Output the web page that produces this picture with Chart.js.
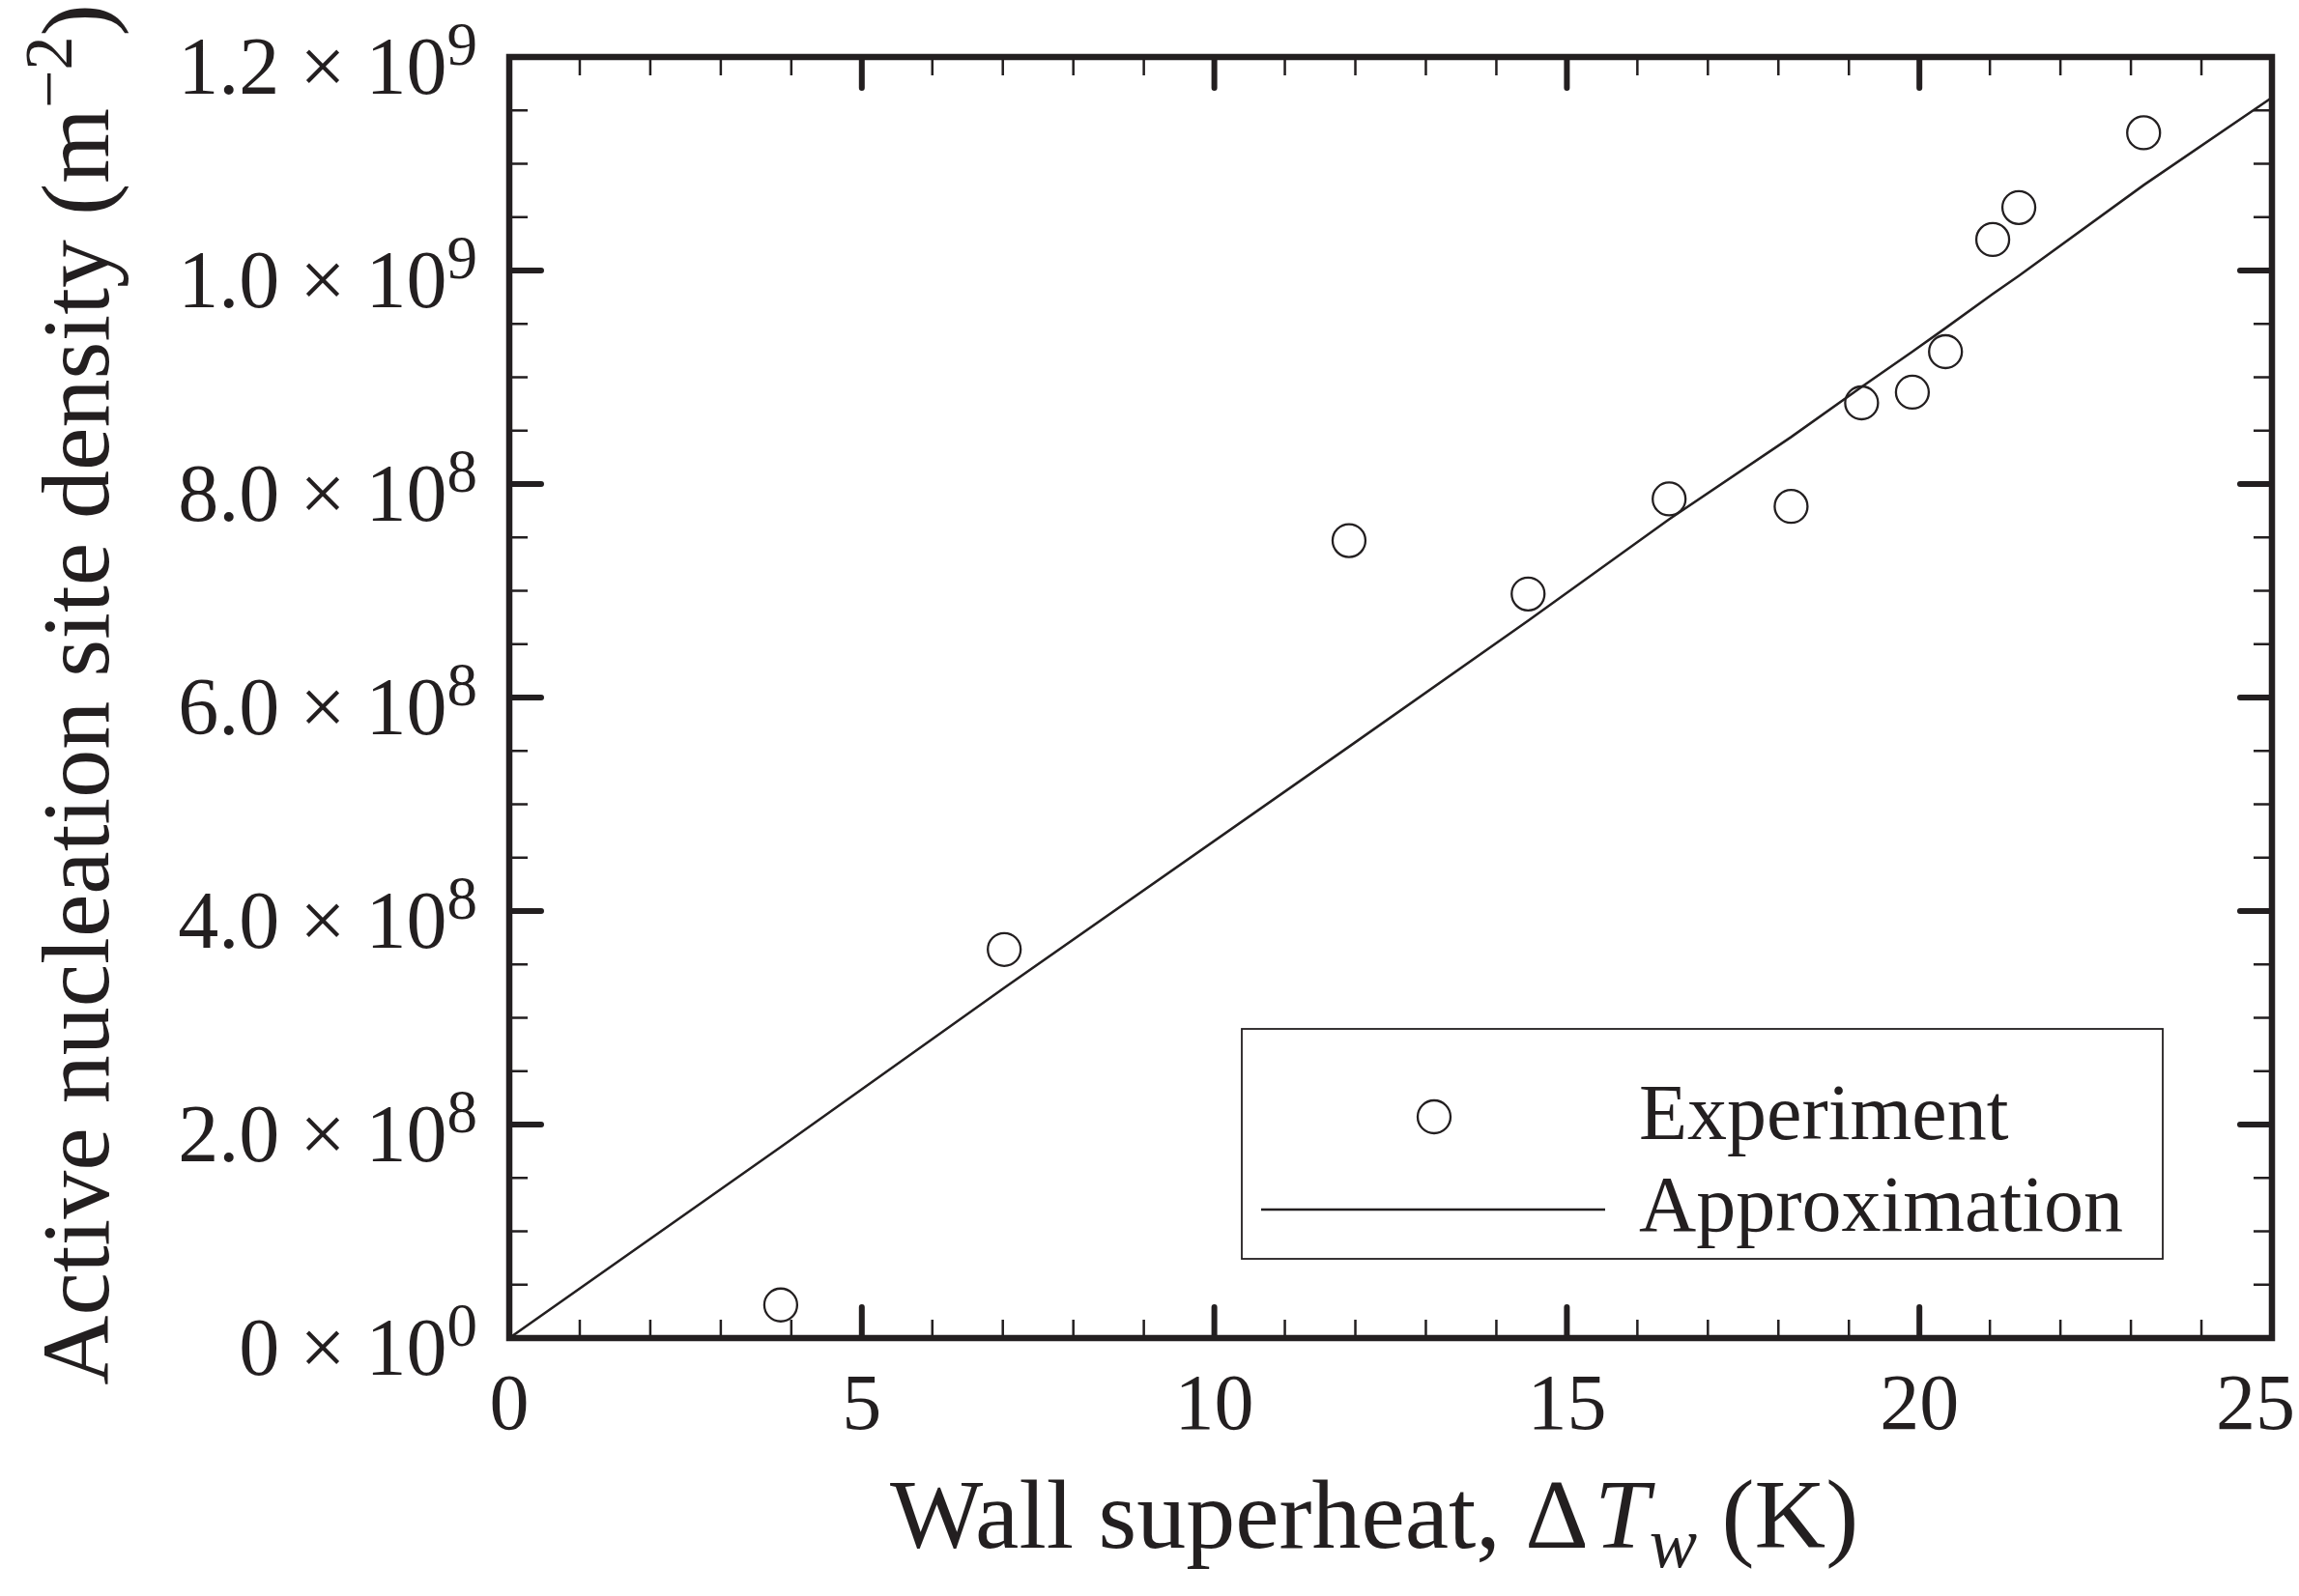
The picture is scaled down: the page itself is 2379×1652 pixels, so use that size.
<!DOCTYPE html>
<html><head><meta charset="utf-8">
<script src="https://cdn.jsdelivr.net/npm/chart.js@4.4.1/dist/chart.umd.min.js"></script>
<style>html,body{margin:0;padding:0;background:#fff;}#wrap{width:2379px;height:1652px;}</style>
</head><body><div id="wrap"><canvas id="c" width="2379" height="1652"></canvas></div>
<script>
// ---- data ----
const expX = [3.85, 7.02, 11.91, 14.45, 16.45, 18.18, 19.18, 19.90, 20.37, 21.04, 21.41, 23.18];
const expY = [0.031e9, 0.364e9, 0.747e9, 0.697e9, 0.786e9, 0.779e9, 0.876e9, 0.886e9, 0.924e9, 1.029e9, 1.059e9, 1.129e9];
const approxX = [0, 3.85, 7.02, 11.91, 14.45, 16.45, 18.18, 19.18, 19.90, 20.37, 21.04, 21.41, 23.18, 25];
const approxY = [0, 0.179e9, 0.328e9, 0.554e9, 0.672e9, 0.767e9, 0.844e9, 0.891e9, 0.924e9, 0.946e9, 0.978e9, 0.995e9, 1.080e9, 1.162e9];
const xTickValues = [0, 5, 10, 15, 20, 25];
const xTickLabels = ['0', '5', '10', '15', '20', '25'];
const yTickValues = [0, 2e8, 4e8, 6e8, 8e8, 1e9, 1.2e9];
const yTickMantissas = ['0', '2.0', '4.0', '6.0', '8.0', '1.0', '1.2'];
const yTickExponents = ['0', '8', '8', '8', '8', '9', '9'];
const seriesNames = ['Experiment', 'Approximation'];

const INK = '#231f20';
const FAM = "'Liberation Serif', 'Times New Roman', serif";

function drawParts(ctx, parts, x, y, align) {
  let total = 0;
  const ws = parts.map(p => { ctx.font = p.font; const w = ctx.measureText(p.t).width + (p.gap || 0); total += w; return w; });
  let cx = align === 'right' ? x - total : align === 'center' ? x - total / 2 : x;
  if (align === 'center' && cx + total > ctx.canvas.width - 4) cx = ctx.canvas.width - 4 - total;
  parts.forEach((p, i) => {
    ctx.font = p.font;
    ctx.fillText(p.t, cx + (p.gap || 0), y + (p.dy || 0));
    cx += ws[i];
  });
}

const decor = {
  id: 'decor',
  afterDatasetsDraw(chart) {
    const ctx = chart.ctx, a = chart.chartArea, xs = chart.scales.x, ys = chart.scales.y;
    ctx.save();
    ctx.strokeStyle = INK; ctx.fillStyle = INK;
    // ticks
    for (let v = 1; v < 25; v++) {
      const px = xs.getPixelForValue(v), major = v % 5 === 0, len = major ? 32 : 19;
      ctx.lineWidth = major ? 6 : 2.5; ctx.lineCap = major ? 'round' : 'butt';
      ctx.beginPath();
      ctx.moveTo(px, a.bottom); ctx.lineTo(px, a.bottom - len);
      ctx.moveTo(px, a.top); ctx.lineTo(px, a.top + len);
      ctx.stroke();
    }
    for (let k = 1; k < 24; k++) {
      const py = ys.getPixelForValue(k * 0.5e8), major = k % 4 === 0, len = major ? 33 : 19;
      ctx.lineWidth = major ? 6 : 2.5; ctx.lineCap = major ? 'round' : 'butt';
      ctx.beginPath();
      ctx.moveTo(a.left, py); ctx.lineTo(a.left + len, py);
      ctx.moveTo(a.right, py); ctx.lineTo(a.right - len, py);
      ctx.stroke();
    }
    // frame
    ctx.lineCap = 'butt'; ctx.lineJoin = 'miter'; ctx.lineWidth = 6.5;
    ctx.strokeRect(a.left, a.top, a.right - a.left, a.bottom - a.top);

    ctx.textBaseline = 'alphabetic';
    ctx.textAlign = 'left';
    // x tick labels
    xTickValues.forEach((v, i) => {
      drawParts(ctx, [{ t: xTickLabels[i], font: `82px ${FAM}` }], xs.getPixelForValue(v), 1479, 'center');
    });
    // y tick labels
    yTickValues.forEach((v, i) => {
      const py = ys.getPixelForValue(v);
      drawParts(ctx, [
        { t: yTickMantissas[i] + ' \u00d7 10', font: `84px ${FAM}` },
        { t: yTickExponents[i], font: `63px ${FAM}`, dy: -30 }
      ], 494, py + 38, 'right');
    });
    // x title
    drawParts(ctx, [
      { t: 'Wall superheat, ', font: `102px ${FAM}` },
      { t: '\u0394', font: `102px ${FAM}` },
      { t: 'T', font: `italic 102px ${FAM}`, gap: 6 },
      { t: 'w', font: `italic 74px ${FAM}`, dy: 20 },
      { t: ' (K)', font: `102px ${FAM}` }
    ], 921, 1602, 'left');
    // y title
    ctx.save();
    ctx.translate(112, 719);
    ctx.rotate(-Math.PI / 2);
    drawParts(ctx, [
      { t: 'Active nucleation site density (m', font: `100px ${FAM}` },
      { t: '\u22122', font: `70px ${FAM}`, dy: -38 },
      { t: ')', font: `100px ${FAM}` }
    ], 0, 0, 'center');
    ctx.restore();
    // legend
    ctx.lineWidth = 1.8;
    ctx.strokeRect(1285, 1065, 953, 238);
    ctx.lineWidth = 2.3;
    ctx.beginPath(); ctx.arc(1484, 1156, 17, 0, Math.PI * 2); ctx.stroke();
    ctx.lineWidth = 2.5;
    ctx.beginPath(); ctx.moveTo(1305, 1252); ctx.lineTo(1661, 1252); ctx.stroke();
    drawParts(ctx, [{ t: seriesNames[0], font: `82px ${FAM}` }], 1696, 1179, 'left');
    drawParts(ctx, [{ t: seriesNames[1], font: `82px ${FAM}` }], 1696, 1274, 'left');
    ctx.restore();
  }
};

new Chart(document.getElementById('c'), {
  type: 'scatter',
  data: {
    datasets: [
      {
        label: seriesNames[0],
        data: expX.map((x, i) => ({ x, y: expY[i] })),
        pointStyle: 'circle', pointRadius: 17, pointBorderWidth: 2.3,
        borderColor: INK, backgroundColor: 'rgba(0,0,0,0)', showLine: false
      },
      {
        label: seriesNames[1],
        data: approxX.map((x, i) => ({ x, y: approxY[i] })),
        showLine: true, pointRadius: 0, borderWidth: 2.6, borderColor: INK,
        backgroundColor: INK, fill: false, tension: 0
      }
    ]
  },
  options: {
    responsive: false, animation: false, devicePixelRatio: 1,
    layout: { padding: { left: 527, right: 28, top: 59, bottom: 267 } },
    plugins: { legend: { display: false }, tooltip: { enabled: false } },
    scales: {
      x: { type: 'linear', min: 0, max: 25, display: false },
      y: { type: 'linear', min: 0, max: 1.2e9, display: false }
    }
  },
  plugins: [decor]
});
</script>
</body></html>
